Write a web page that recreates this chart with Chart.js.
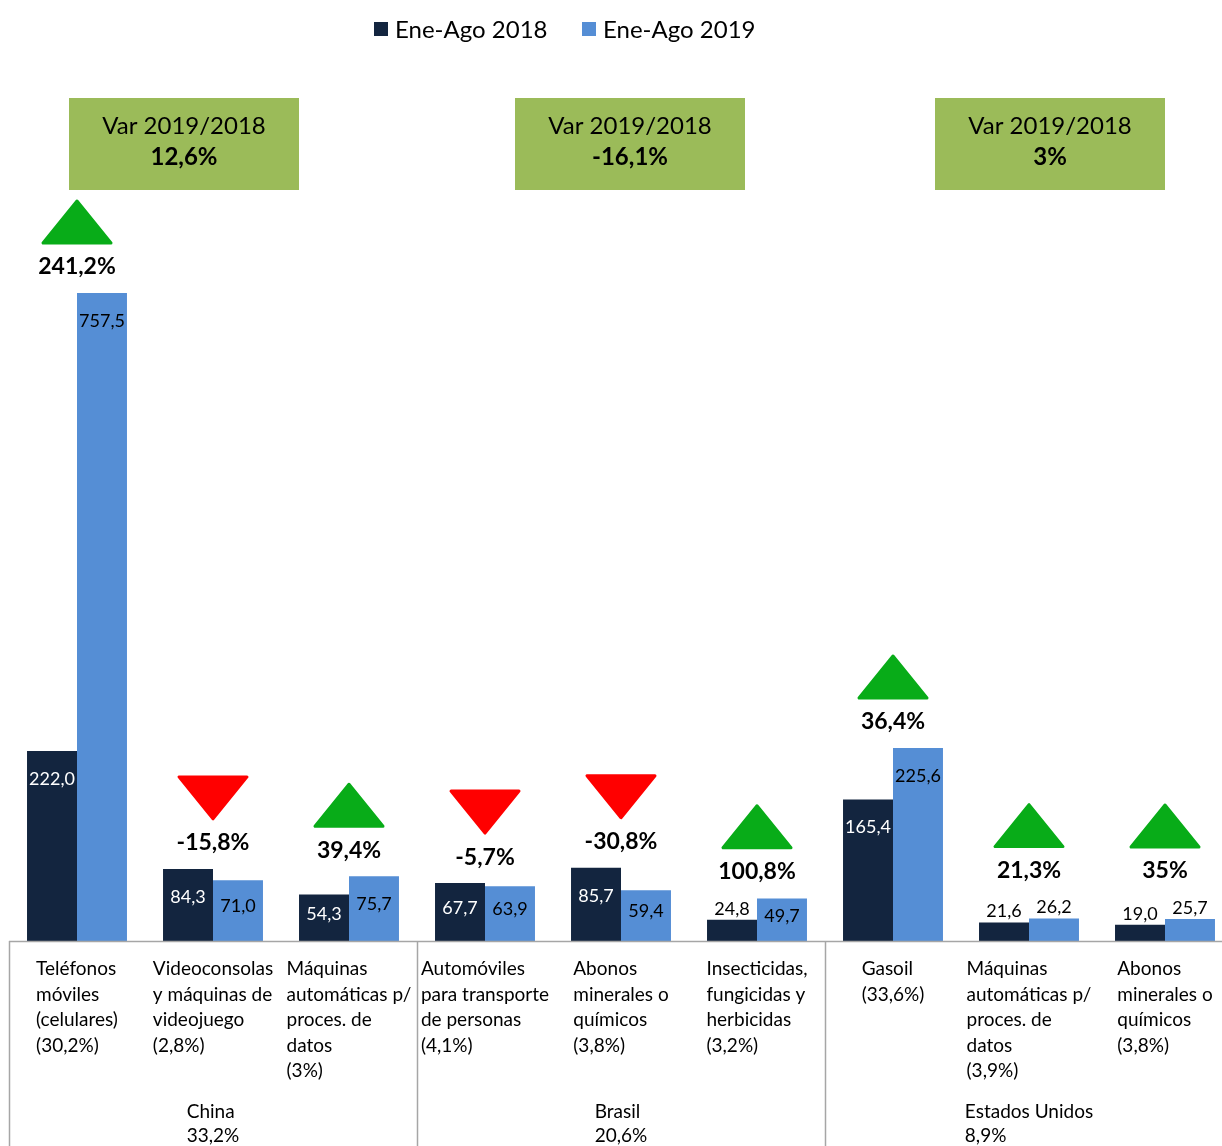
<!DOCTYPE html>
<html>
<head>
<meta charset="utf-8">
<script src="https://cdn.jsdelivr.net/npm/chart.js@4.4.1/dist/chart.umd.min.js"></script>
<style>
  html, body { margin: 0; padding: 0; background: #fff; overflow: hidden; }
  #wrap { position: relative; width: 1233px; height: 1146px; }
</style>
</head>
<body>
<div id="wrap"><canvas id="chart"></canvas></div>
<script>
// datos
const categorias = [
  ['Teléfonos', 'móviles', '(celulares)', '(30,2%)'],
  ['Videoconsolas', 'y máquinas de', 'videojuego', '(2,8%)'],
  ['Máquinas', 'automáticas p/', 'proces. de', 'datos', '(3%)'],
  ['Automóviles', 'para transporte', 'de personas', '(4,1%)'],
  ['Abonos', 'minerales o', 'químicos', '(3,8%)'],
  ['Insecticidas,', 'fungicidas y', 'herbicidas', '(3,2%)'],
  ['Gasoil', '(33,6%)'],
  ['Máquinas', 'automáticas p/', 'proces. de', 'datos', '(3,9%)'],
  ['Abonos', 'minerales o', 'químicos', '(3,8%)']
];
const ene_ago_2018 = [222.0, 84.3, 54.3, 67.7, 85.7, 24.8, 165.4, 21.6, 19.0];
const ene_ago_2019 = [757.5, 71.0, 75.7, 63.9, 59.4, 49.7, 225.6, 26.2, 25.7];
const variacion = [241.2, -15.8, 39.4, -5.7, -30.8, 100.8, 36.4, 21.3, 35];
const paises = ['China', 'Brasil', 'Estados Unidos'];
const paisParticipacion = ['33,2%', '20,6%', '8,9%'];
const paisVariacion = ['12,6%', '-16,1%', '3%'];

const FONT = 'Lato, "Open Sans", sans-serif';
const OSCURO = '#13253F';
const CLARO = '#558ED5';

function fmt(v) {
  return Number.isInteger(v) ? v + '%' : v.toFixed(1).replace('.', ',') + '%';
}

const extras = {
  id: 'extras',
  afterDatasetsDraw(chart) {
    const ctx = chart.ctx;
    const x = chart.scales.x;
    const area = chart.chartArea;
    const m0 = chart.getDatasetMeta(0).data;
    const m1 = chart.getDatasetMeta(1).data;
    ctx.save();
    ctx.textAlign = 'center';
    ctx.textBaseline = 'middle';

    // leyenda
    ctx.textAlign = 'left';
    ctx.font = '24px ' + FONT;
    let lx = 374;
    chart.data.datasets.forEach(ds => {
      ctx.fillStyle = ds.backgroundColor;
      ctx.fillRect(lx, 22, 14, 14);
      ctx.fillStyle = '#000';
      ctx.fillText(ds.label, lx + 21, 30);
      lx += 208;
    });
    ctx.textAlign = 'center';

    // etiquetas de valores
    const tops = [];
    [m0, m1].forEach((meta, d) => {
      const vals = d === 0 ? ene_ago_2018 : ene_ago_2019;
      meta.forEach((bar, i) => {
        const h = bar.base - bar.y;
        let y, col;
        if (h < 30) {
          y = bar.y - 11;
          col = '#000';
          tops[i] = Math.min(tops[i] ?? 1e9, bar.y - 22);
        } else {
          y = bar.y + Math.min(28, h / 2 - 4);
          col = d === 0 ? '#fff' : '#000';
          tops[i] = Math.min(tops[i] ?? 1e9, bar.y);
        }
        ctx.font = '18px ' + FONT;
        ctx.fillStyle = col;
        ctx.fillText(vals[i].toFixed(1).replace('.', ','), bar.x, y);
      });
    });

    // variaciones con triangulos
    variacion.forEach((v, i) => {
      const cx = x.getPixelForValue(i);
      const py = tops[i] - 26;
      ctx.font = 'bold 23px ' + FONT;
      ctx.fillStyle = '#000';
      ctx.fillText(fmt(v), cx, py);
      const b = py - 24, hgt = 42, w = 68;
      ctx.beginPath();
      if (v >= 0) {
        ctx.moveTo(cx - w / 2, b);
        ctx.lineTo(cx + w / 2, b);
        ctx.lineTo(cx, b - hgt);
        ctx.fillStyle = ctx.strokeStyle = '#08AC18';
      } else {
        ctx.moveTo(cx - w / 2, b - hgt);
        ctx.lineTo(cx + w / 2, b - hgt);
        ctx.lineTo(cx, b);
        ctx.fillStyle = ctx.strokeStyle = '#FF0000';
      }
      ctx.closePath();
      ctx.lineJoin = 'round';
      ctx.lineWidth = 3;
      ctx.fill();
      ctx.stroke();
    });

    // etiquetas de categorias (bloque alineado a la izquierda, centrado)
    ctx.textAlign = 'left';
    ctx.fillStyle = '#000';
    ctx.font = '19px ' + FONT;
    categorias.forEach((lines, i) => {
      const cx = x.getPixelForValue(i);
      const w = Math.max(...lines.map(l => ctx.measureText(l).width));
      lines.forEach((l, k) => ctx.fillText(l, cx - w / 2, area.bottom + 28 + k * 25.5));
    });
    paises.forEach((p, g) => {
      const cx = x.getPixelForValue(g * 3 + 1);
      const lines = [p, paisParticipacion[g]];
      const w = Math.max(...lines.map(l => ctx.measureText(l).width));
      lines.forEach((l, k) => ctx.fillText(l, cx - w / 2, area.bottom + 171 + k * 24));
    });

    // separadores
    ctx.strokeStyle = '#A6A6A6';
    ctx.lineWidth = 1.5;
    [0, 3, 6].forEach(c => {
      const sx = Math.round(x.getPixelForValue(c) - (x.getPixelForValue(1) - x.getPixelForValue(0)) / 2) + 0.5;
      ctx.beginPath();
      ctx.moveTo(sx, area.bottom);
      ctx.lineTo(sx, chart.height);
      ctx.stroke();
    });
    ctx.beginPath();
    ctx.moveTo(area.left, area.bottom + 0.5);
    ctx.lineTo(area.right, area.bottom + 0.5);
    ctx.stroke();

    // cajas de variacion por pais
    const desplaz = [-29, 9, 21];
    paises.forEach((p, g) => {
      const cx = x.getPixelForValue(g * 3 + 1) + desplaz[g];
      ctx.fillStyle = '#9BBB59';
      ctx.fillRect(cx - 115, 98, 230, 92);
      ctx.fillStyle = '#000';
      ctx.textAlign = 'center';
      ctx.font = '24px ' + FONT;
      ctx.fillText('Var 2019/2018', cx, 126);
      ctx.font = 'bold 24px ' + FONT;
      ctx.fillText(paisVariacion[g], cx, 157);
    });
    ctx.restore();
  }
};

new Chart(document.getElementById('chart'), {
  type: 'bar',
  data: {
    labels: categorias,
    datasets: [
      { label: 'Ene-Ago 2018', data: ene_ago_2018, backgroundColor: OSCURO },
      { label: 'Ene-Ago 2019', data: ene_ago_2019, backgroundColor: CLARO }
    ]
  },
  options: {
    responsive: true,
    maintainAspectRatio: false,
    animation: false,
    layout: { padding: { left: 9, right: 0, top: 0, bottom: 0 } },
    datasets: { bar: { categoryPercentage: 0.735, barPercentage: 1 } },
    plugins: {
      tooltip: { enabled: false },
      legend: { display: false }
    },
    scales: {
      x: {
        grid: { display: false },
        border: { display: false },
        ticks: { display: false },
        afterFit(s) { s.height = 205; }
      },
      y: {
        display: false,
        min: 0,
        max: 1100
      }
    }
  },
  plugins: [extras]
});
</script>
</body>
</html>
